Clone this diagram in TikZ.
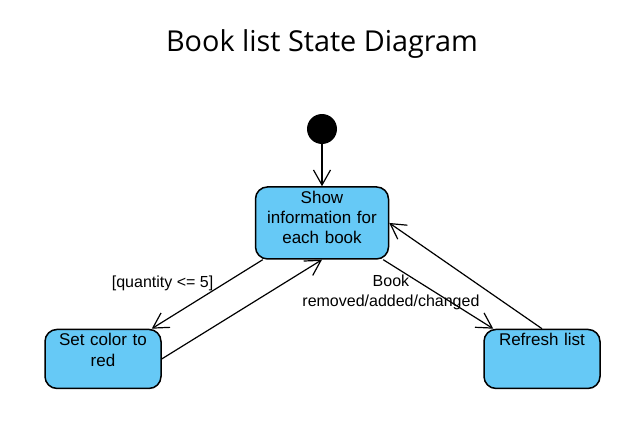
\documentclass[tikz,border=0pt]{standalone}
\usepackage{fontspec}
\setmainfont{Liberation Sans}
\newfontfamily\titlefont{Open Sans}
\usepackage{tikz}
\usetikzlibrary{positioning, arrows.meta, calc}
\definecolor{stateblue}{HTML}{66C9F6}
\tikzset{
    statebox/.style={draw=black, line width=1.5pt, fill=stateblue, rounded corners=12pt,
      align=center, inner xsep=2pt, inner ysep=4pt, font=\fontsize{17}{20.3}\selectfont},
    initstate/.style={circle, fill=black, minimum size=30pt, inner sep=0pt},
    trans/.style={line width=1.2pt, -{Straight Barb[length=15pt, width=17pt, line width=1.2pt]}},
    guard/.style={font=\fontsize{16}{20}\selectfont, align=center, inner sep=2pt},
}

\begin{document}
\begin{tikzpicture}[x=1pt, y=-1pt]
    \useasboundingbox (0,0) rectangle (633,434);
    \tikzset{
      node distance=42pt,
      every edge/.append style={trans}
    }

    \node[font=\titlefont\fontsize{28.8}{32}\selectfont, anchor=base] (title) at (322,51.5) {Book list State Diagram};
    \node[initstate] (init) at (322,129) {};
    \node[statebox, below=of init, text width=129pt, text height=12.2pt, text depth=51.8pt] (show) {Show\\information for\\each book};
    \node[statebox, below left=69pt and 93pt of show, text width=112pt, text height=12.5pt, text depth=38.5pt] (setred) {Set color to\\red};
    \node[statebox, below right=69pt and 94pt of show, text width=112pt, text height=12.5pt, text depth=38.5pt] (refresh) {Refresh list};

    \draw (init) edge (show);
    \draw ([xshift=8pt]show.south west) edge node[guard, pos=0.35, left=8pt]{[quantity <= 5]} ([xshift=-10pt]setred.north east);
    \draw (setred.east) edge (show.south);
    \draw ([xshift=-6pt]show.south east) edge node[guard, pos=0.07, below=8pt]{Book\\removed/added/changed} ([xshift=10pt]refresh.north west);
    \draw (refresh.north) edge (show.east);
  \end{tikzpicture}
\end{document}
